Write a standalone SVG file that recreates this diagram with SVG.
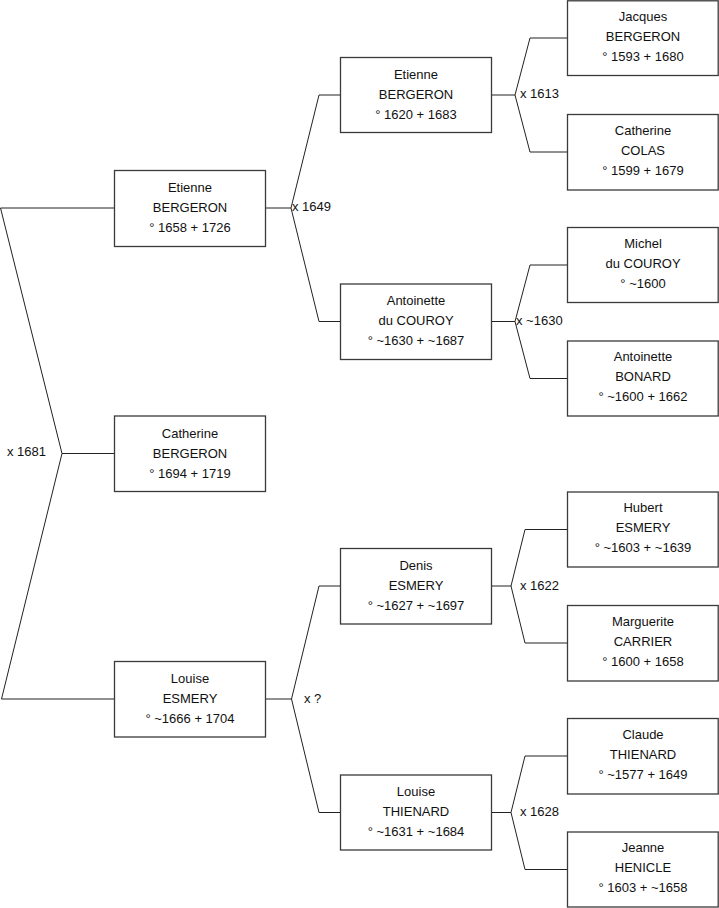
<svg xmlns="http://www.w3.org/2000/svg" width="719" height="908" viewBox="0 0 719 908">
<style>
.box{fill:#fff;stroke:#3a3a3a;stroke-width:1.3}
.t{font-family:"Liberation Sans",Arial,sans-serif;font-size:13px;fill:#111;text-anchor:middle}
.lbl{font-family:"Liberation Sans",Arial,sans-serif;font-size:13px;fill:#111}
.c{fill:none;stroke:#222;stroke-width:1}
</style>
<rect width="719" height="908" fill="#fff"/>
<g id="connectors">
<polyline class="c" points="114,208 0.5,208 62,453.5 1.5,699 114,699"/>
<line class="c" x1="62" y1="453.5" x2="114" y2="453.5"/>
<polyline class="c" points="340,95 319,95 291,208 319,321.5 340,321.5"/>
<line class="c" x1="265" y1="208" x2="291" y2="208"/>
<polyline class="c" points="340,586 319,586 291.5,699 319,812.5 340,812.5"/>
<line class="c" x1="265" y1="699" x2="291.5" y2="699"/>
<polyline class="c" points="567,38 530,38 515,95 530,152 567,152"/>
<line class="c" x1="491" y1="95" x2="515" y2="95"/>
<polyline class="c" points="567,265 530,265 515,321.5 530,378.5 567,378.5"/>
<line class="c" x1="491" y1="321.5" x2="515" y2="321.5"/>
<polyline class="c" points="567,529.5 525,529.5 511,586 525,643 567,643"/>
<line class="c" x1="491" y1="586" x2="511" y2="586"/>
<polyline class="c" points="567,756 525,756 511,812.5 525,869.5 567,869.5"/>
<line class="c" x1="491" y1="812.5" x2="511" y2="812.5"/>
<text class="lbl" x="7" y="456">x 1681</text>
<text class="lbl" x="292" y="211">x 1649</text>
<text class="lbl" x="304" y="703">x ?</text>
<text class="lbl" x="520" y="98">x 1613</text>
<text class="lbl" x="516" y="325">x ~1630</text>
<text class="lbl" x="520" y="590">x 1622</text>
<text class="lbl" x="520" y="816">x 1628</text>
</g>
<g id="etienne-1658">
<rect class="box" x="114.5" y="170.5" width="151" height="76"/>
<text class="t" x="190" y="192">Etienne</text>
<text class="t" x="190" y="212">BERGERON</text>
<text class="t" x="190" y="232">° 1658 + 1726</text>
</g>
<g id="catherine-bergeron">
<rect class="box" x="114.5" y="416" width="151" height="75.5"/>
<text class="t" x="190" y="438">Catherine</text>
<text class="t" x="190" y="458">BERGERON</text>
<text class="t" x="190" y="478">° 1694 + 1719</text>
</g>
<g id="louise-esmery">
<rect class="box" x="114.5" y="661.5" width="151" height="75.5"/>
<text class="t" x="190" y="683">Louise</text>
<text class="t" x="190" y="703">ESMERY</text>
<text class="t" x="190" y="723">° ~1666 + 1704</text>
</g>
<g id="etienne-1620">
<rect class="box" x="340.5" y="57.5" width="151" height="75"/>
<text class="t" x="416" y="79">Etienne</text>
<text class="t" x="416" y="99">BERGERON</text>
<text class="t" x="416" y="119">° 1620 + 1683</text>
</g>
<g id="antoinette-couroy">
<rect class="box" x="340.5" y="284" width="151" height="75.5"/>
<text class="t" x="416" y="305">Antoinette</text>
<text class="t" x="416" y="325">du COUROY</text>
<text class="t" x="416" y="345">° ~1630 + ~1687</text>
</g>
<g id="denis-esmery">
<rect class="box" x="340.5" y="548.5" width="151" height="75.5"/>
<text class="t" x="416" y="570">Denis</text>
<text class="t" x="416" y="590">ESMERY</text>
<text class="t" x="416" y="610">° ~1627 + ~1697</text>
</g>
<g id="louise-thienard">
<rect class="box" x="340.5" y="775" width="151" height="75"/>
<text class="t" x="416" y="796">Louise</text>
<text class="t" x="416" y="816">THIENARD</text>
<text class="t" x="416" y="836">° ~1631 + ~1684</text>
</g>
<g id="jacques-bergeron">
<rect class="box" x="567.5" y="0.8" width="150.7" height="74.7"/>
<text class="t" x="643" y="21">Jacques</text>
<text class="t" x="643" y="41">BERGERON</text>
<text class="t" x="643" y="61">° 1593 + 1680</text>
</g>
<g id="catherine-colas">
<rect class="box" x="567.5" y="114.5" width="150.7" height="75.5"/>
<text class="t" x="643" y="135">Catherine</text>
<text class="t" x="643" y="155">COLAS</text>
<text class="t" x="643" y="175">° 1599 + 1679</text>
</g>
<g id="michel-couroy">
<rect class="box" x="567.5" y="227.5" width="150.7" height="75"/>
<text class="t" x="643" y="248">Michel</text>
<text class="t" x="643" y="268">du COUROY</text>
<text class="t" x="643" y="288">° ~1600</text>
</g>
<g id="antoinette-bonard">
<rect class="box" x="567.5" y="341" width="150.7" height="75"/>
<text class="t" x="643" y="361">Antoinette</text>
<text class="t" x="643" y="381">BONARD</text>
<text class="t" x="643" y="401">° ~1600 + 1662</text>
</g>
<g id="hubert-esmery">
<rect class="box" x="567.5" y="492" width="150.7" height="75"/>
<text class="t" x="643" y="512">Hubert</text>
<text class="t" x="643" y="532">ESMERY</text>
<text class="t" x="643" y="552">° ~1603 + ~1639</text>
</g>
<g id="marguerite-carrier">
<rect class="box" x="567.5" y="605.5" width="150.7" height="75.5"/>
<text class="t" x="643" y="626">Marguerite</text>
<text class="t" x="643" y="646">CARRIER</text>
<text class="t" x="643" y="666">° 1600 + 1658</text>
</g>
<g id="claude-thienard">
<rect class="box" x="567.5" y="718.5" width="150.7" height="75.5"/>
<text class="t" x="643" y="739">Claude</text>
<text class="t" x="643" y="759">THIENARD</text>
<text class="t" x="643" y="779">° ~1577 + 1649</text>
</g>
<g id="jeanne-henicle">
<rect class="box" x="567.5" y="832" width="150.7" height="75"/>
<text class="t" x="643" y="852">Jeanne</text>
<text class="t" x="643" y="872">HENICLE</text>
<text class="t" x="643" y="892">° 1603 + ~1658</text>
</g>
</svg>
